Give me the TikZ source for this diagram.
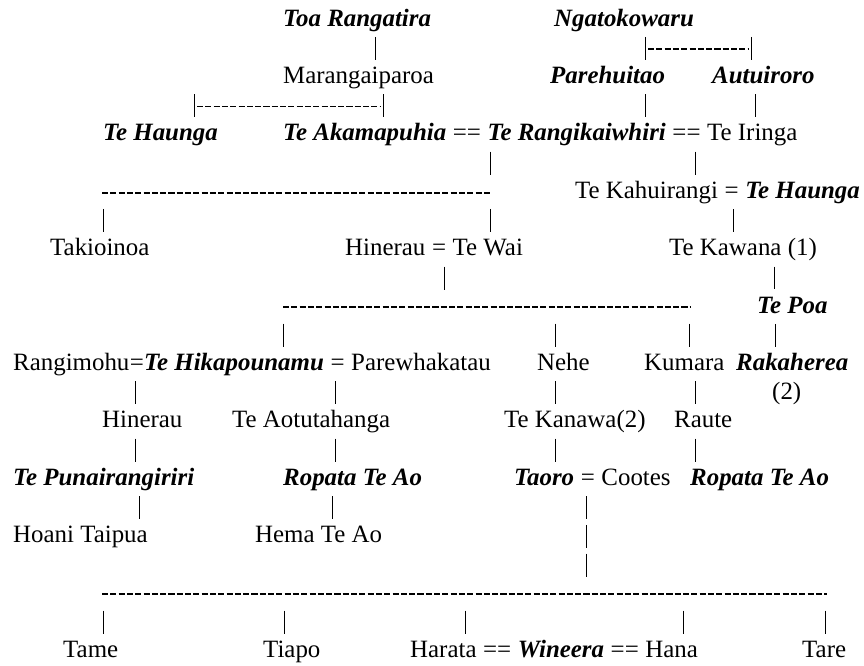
\documentclass[tikz,border=0pt]{standalone}
\usepackage{fontspec}
\setmainfont{Liberation Serif}
\begin{document}
\begin{tikzpicture}[x=1pt,y=-1pt,
  gen/.style={anchor=base west, inner sep=0pt, text height=23.4pt, text depth=10.7pt, font=\fontsize{24.9pt}{28.7pt}\selectfont},
  nm/.style={gen},
  bi/.style={gen, font=\fontsize{24.9pt}{28.7pt}\selectfont\bfseries\itshape},
  note/.style={anchor=base west, inner sep=0pt, font=\fontsize{24.9pt}{28.7pt}\selectfont},
  pipe/.style={line width=1pt},
  hy/.style={line width=1.9pt, dash pattern=on 6.1pt off 2.2pt}]
\useasboundingbox (0,0) rectangle (864,665);
% row 0
\node[bi] (toa) at (283,26) {Toa Rangatira};
\node[bi] (ngato) at (554,26) {Ngatokowaru};
% row 2
\node[nm] (mara) at (283,83.4) {Marangaiparoa};
\node[bi] (pareh) at (550,83.4) {Parehuitao};
\node[bi] (autui) at (712,83.4) {Autuiroro};
% row 4
\node[bi] (haunga) at (103,140.8) {Te Haunga};
\node[bi] (akama) at (283,140.8) {Te Akamapuhia};
\node[nm] (eqA) at (akama.base east) {\ ==\ \null};
\node[bi] (rangi) at (eqA.base east) {Te Rangikaiwhiri};
\node[nm] (eqB) at (rangi.base east) {\ ==\ \null};
\node[nm] (iringa) at (eqB.base east) {Te Iringa};
% row 6
\node[nm] (kahu) at (575,198.2) {Te Kahuirangi};
\node[nm] (eqC) at (kahu.base east) {\ =\ \null};
\node[bi] (haunga2) at (eqC.base east) {Te Haunga};
% row 8
\node[nm] (tak) at (50,255.6) {Takioinoa};
\node[nm] (hin) at (345,255.6) {Hinerau};
\node[nm] (eqD) at (hin.base east) {\ =\ \null};
\node[nm] (tewai) at (eqD.base east) {Te Wai};
\node[nm] (kawana) at (669,255.6) {Te Kawana (1)};
% row 10
\node[bi] (tepoa) at (757,313) {Te Poa};
% row 12
\node[nm] (rangim) at (13,370.4) {Rangimohu};
\node[nm] (eqE) at (rangim.base east) {=};
\node[bi] (hika) at (eqE.base east) {Te Hikapounamu};
\node[nm] (eqF) at (hika.base east) {\ =\ \null};
\node[nm] (parew) at (eqF.base east) {Parewhakatau};
\node[nm] (nehe) at (537,370.4) {Nehe};
\node[nm] (kumara) at (644,370.4) {Kumara};
\node[bi] (raka) at (736,370.4) {Rakaherea};
% row 13
\node[note] (two) at (772,399.1) {(2)};
% row 14
\node[nm] (hin2) at (102,427.8) {Hinerau};
\node[nm] (aotu) at (232,427.8) {Te Aotutahanga};
\node[nm] (kanawa) at (504,427.8) {Te Kanawa(2)};
\node[nm] (raute) at (674,427.8) {Raute};
% row 16
\node[bi] (punai) at (13,485.2) {Te Punairangiriri};
\node[bi] (ropata1) at (283,485.2) {Ropata Te Ao};
\node[bi] (taoro) at (514,485.2) {Taoro};
\node[nm] (eqG) at (taoro.base east) {\ =\ \null};
\node[nm] (cootes) at (eqG.base east) {Cootes};
\node[bi] (ropata2) at (690,485.2) {Ropata Te Ao};
% row 18
\node[nm] (hoani) at (13,542.6) {Hoani Taipua};
\node[nm] (hema) at (255,542.6) {Hema Te Ao};
% row 22
\node[nm] (tame) at (63,657.4) {Tame};
\node[nm] (tiapo) at (263,657.4) {Tiapo};
\node[nm] (harata) at (410,657.4) {Harata};
\node[nm] (eqH) at (harata.base east) {\ ==\ \null};
\node[bi] (wineera) at (eqH.base east) {Wineera};
\node[nm] (eqI) at (wineera.base east) {\ ==\ \null};
\node[nm] (hana) at (eqI.base east) {Hana};
\node[nm] (tare) at (802,657.4) {Tare};
% dash lines
\coordinate (d1a) at (648,49.1);  \coordinate (d1b) at (748,49.1);
\coordinate (d3a) at (197,106.5); \coordinate (d3b) at (380,106.5);
\coordinate (d6a) at (102,192.6); \coordinate (d6b) at (492,192.6);
\coordinate (d10a) at (283,307.4); \coordinate (d10b) at (690,307.4);
\coordinate (d20a) at (102,594.4); \coordinate (d20b) at (827,594.4);
\draw[hy] (d1a) -- (d1b);
\draw[hy] (d3a) -- (d3b);
\draw[hy] (d6a) -- (d6b);
\draw[hy] (d10a) -- (d10b);
\draw[hy] (d20a) -- (d20b);
% pipes rows 1-3
\draw[pipe] (toa.south -| 375,0) -- (mara.north -| 375,0);
\draw[pipe] (ngato.south -| 645,0) -- (pareh.north -| 645,0);
\draw[pipe] (ngato.south -| 751,0) -- (autui.north -| 751,0);
\draw[pipe] (mara.south -| 194,0) -- (haunga.north -| 194,0);
\draw[pipe] (mara.south -| 383,0) -- (akama.north -| 383,0);
\draw[pipe] (pareh.south -| 645,0) -- (rangi.north -| 645,0);
\draw[pipe] (autui.south -| 755,0) -- (iringa.north -| 755,0);
% rows 5-7
\draw[pipe, shorten >=17.8pt] (eqA.south -| 490,0) -- (d6b -| 490,0);
\draw[pipe] (eqB.south -| 695,0) -- (kahu.north -| 695,0);
\draw[pipe] (d6a -| 103,0) ++(0,16.3) -- (tak.north -| 103,0);
\draw[pipe] (d6b -| 490,0) ++(0,16.3) -- (tewai.north -| 490,0);
\draw[pipe] (eqC.south -| 733,0) -- (kawana.north -| 733,0);
% rows 9-11
\draw[pipe, shorten >=17.8pt] (eqD.south -| 444,0) -- (d10a -| 444,0);
\draw[pipe] (kawana.south -| 774,0) -- (tepoa.north -| 774,0);
\draw[pipe] (d10a -| 283,0) ++(0,16.3) -- (hika.north -| 283,0);
\draw[pipe] (d10a -| 555,0) ++(0,16.3) -- (nehe.north -| 555,0);
\draw[pipe] (d10b -| 689,0) ++(0,16.3) -- (kumara.north -| 689,0);
\draw[pipe] (tepoa.south -| 775,0) -- (raka.north -| 775,0);
% rows 13-15
\draw[pipe] (eqE.south -| 135,0) -- (hin2.north -| 135,0);
\draw[pipe] (eqF.south -| 335,0) -- (aotu.north -| 335,0);
\draw[pipe] (nehe.south -| 555,0) -- (kanawa.north -| 555,0);
\draw[pipe] (kumara.south -| 695,0) -- (raute.north -| 695,0);
\draw[pipe] (hin2.south -| 135,0) -- (punai.north -| 135,0);
\draw[pipe] (aotu.south -| 335,0) -- (ropata1.north -| 335,0);
\draw[pipe] (kanawa.south -| 555,0) -- (taoro.north -| 555,0);
\draw[pipe] (raute.south -| 695,0) -- (ropata2.north -| 695,0);
% rows 17-19
\draw[pipe] (punai.south -| 139,0) -- (hoani.north -| 139,0);
\draw[pipe] (ropata1.south -| 332,0) -- (hema.north -| 332,0);
\draw[pipe] (eqG.south -| 586,0) -- ++(0,23.3) ++(0,5.4) -- ++(0,23.3) ++(0,5.4) -- ++(0,23.3);
% row 21
\draw[pipe] (d20a -| 103,0) ++(0,16.3) -- (tame.north -| 103,0);
\draw[pipe] (d20a -| 284,0) ++(0,16.3) -- (tiapo.north -| 284,0);
\draw[pipe] (d20a -| 465,0) ++(0,16.3) -- (harata.north -| 465,0);
\draw[pipe] (d20b -| 683,0) ++(0,16.3) -- (hana.north -| 683,0);
\draw[pipe] (d20b -| 825,0) ++(0,16.3) -- (tare.north -| 825,0);
\end{tikzpicture}
\end{document}
